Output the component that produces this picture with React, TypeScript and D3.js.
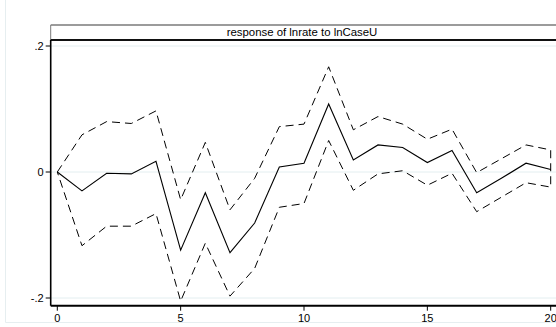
import React from "react";
import * as d3 from "d3";

const steps = [0, 1, 2, 3, 4, 5, 6, 7, 8, 9, 10, 11, 12, 13, 14, 15, 16, 17, 18, 19, 20];
const irf = [0, -0.030, -0.002, -0.003, 0.017, -0.124, -0.033, -0.128, -0.081, 0.008, 0.014, 0.108, 0.019, 0.043, 0.039, 0.015, 0.034, -0.033, -0.010, 0.014, 0.004];
const upper = [0, 0.059, 0.080, 0.077, 0.097, -0.044, 0.047, -0.060, -0.010, 0.072, 0.076, 0.167, 0.067, 0.088, 0.076, 0.052, 0.068, -0.001, 0.021, 0.043, 0.035];
const lower = [0, -0.117, -0.086, -0.086, -0.066, -0.205, -0.113, -0.197, -0.153, -0.056, -0.050, 0.050, -0.029, -0.003, 0.002, -0.021, -0.002, -0.063, -0.040, -0.017, -0.024];
const yTicks = [0.2, 0, -0.2];
const yTickLabels = [".2", "0", "-.2"];
const xTicks = [0, 5, 10, 15, 20];
const title = "response of lnrate to lnCaseU";

export default function App() {
  const W = 556, H = 327;
  const axisX = 50.7, axisY = 305.7;
  const x = d3.scaleLinear().domain([0, 20]).range([57.3, 550.7]);
  const y = d3.scaleLinear().domain([-0.2, 0.2]).range([298, 46]);
  const line = d3.line<[number, number]>().x(d => x(d[0])).y(d => y(d[1]));
  const irfPts: [number, number][] = steps.map((s, i) => [s, irf[i]]);
  const ciPts: [number, number][] = [
    ...steps.map((s, i) => [s, upper[i]] as [number, number]),
    ...steps.slice().reverse().map((s) => [s, lower[s]] as [number, number]),
  ];
  const font = "Liberation Sans, Arial, sans-serif";
  return (
    <svg width={W} height={H} style={{ position: "absolute", left: 0, top: 0, background: "#fff" }}>
      <rect x={0} y={0} width={W} height={H} fill="#fff" />
      {/* faint outer frame */}
      <line x1={5.5} x2={5.5} y1={0} y2={322.5} stroke="#e6eef0" strokeWidth={1} />
      <line x1={5.5} x2={W} y1={322.5} y2={322.5} stroke="#e6eef0" strokeWidth={1} />
      {/* grid lines */}
      {yTicks.map((t) => (
        <line key={"g" + t} x1={axisX} x2={W} y1={y(t)} y2={y(t)} stroke="#e3eef0" strokeWidth={1} />
      ))}
      {/* title box */}
      <line x1={axisX} x2={W} y1={25} y2={25} stroke="#7a7a7a" strokeWidth={1.5} />
      <line x1={axisX} x2={axisX} y1={25} y2={40} stroke="#7a7a7a" strokeWidth={1} />
      <line x1={axisX} x2={W} y1={40} y2={40} stroke="#111" strokeWidth={2} />
      <text x={302} y={36} textAnchor="middle" fontFamily={font} fontSize={11.4} fill="#000">{title}</text>
      {/* axes */}
      <line x1={axisX} x2={axisX} y1={40} y2={axisY} stroke="#000" strokeWidth={1.6} />
      <line x1={axisX} x2={W} y1={axisY} y2={axisY} stroke="#000" strokeWidth={2} />
      {yTicks.map((t, i) => (
        <g key={"y" + t}>
          <line x1={axisX - 5} x2={axisX} y1={y(t)} y2={y(t)} stroke="#000" strokeWidth={1} />
          <text x={axisX - 7} y={y(t) + 4} textAnchor="end" fontFamily={font} fontSize={11} fill="#000">{yTickLabels[i]}</text>
        </g>
      ))}
      {xTicks.map((t) => (
        <g key={"x" + t}>
          <line x1={x(t)} x2={x(t)} y1={axisY} y2={axisY + 5} stroke="#000" strokeWidth={1} />
          <text x={x(t)} y={322} textAnchor="middle" fontFamily={font} fontSize={11} fill="#000">{t}</text>
        </g>
      ))}
      {/* CI band outline */}
      <path d={line(ciPts) || ""} fill="none" stroke="#000" strokeWidth={1} strokeDasharray="8,5" />
      {/* IRF */}
      <path d={line(irfPts) || ""} fill="none" stroke="#000" strokeWidth={1.1} />
    </svg>
  );
}
